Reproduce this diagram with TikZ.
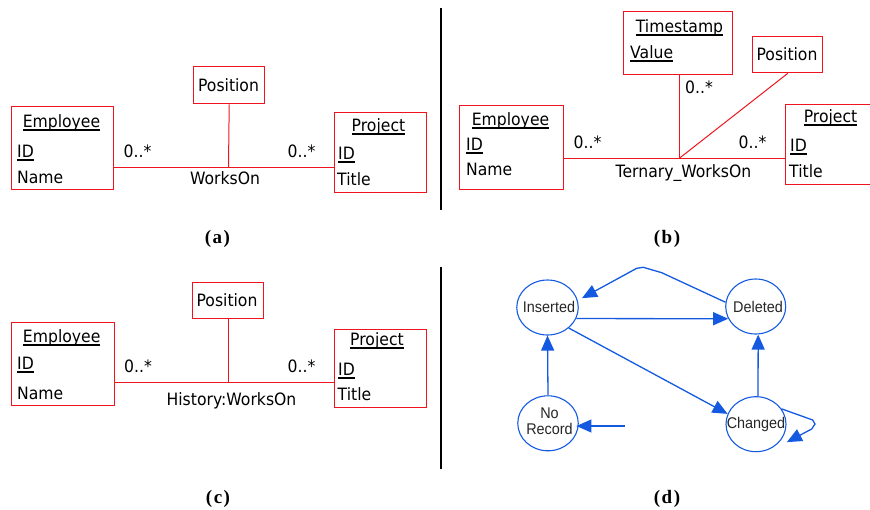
\documentclass[tikz,border=0pt]{standalone}
\usepackage{fontspec}
\setmainfont{Liberation Serif}
\newfontfamily\erfont[FakeStretch=0.92]{DejaVu Sans}
\newfontfamily\stfont[FakeStretch=0.93]{Liberation Sans}
\usetikzlibrary{arrows.meta,shapes.geometric}
\definecolor{boxred}{RGB}{240,20,30}
\definecolor{flowblue}{RGB}{20,90,225}
\newcommand{\myul}[1]{\setbox0=\hbox{#1}\rlap{\rule[-3.6pt]{\wd0}{1.3pt}}\box0}
\begin{document}
\begin{tikzpicture}[x=1pt,y=-1pt,
 erbox/.style={draw=boxred, line width=1.4pt, rectangle, inner sep=0pt, anchor=north west},
 ertxt/.style={font=\erfont\fontsize{17}{20}\selectfont, inner sep=0pt, anchor=base},
 ertxtl/.style={ertxt, anchor=base west},
 relline/.style={draw=boxred, line width=1pt},
 divider/.style={line width=2pt},
 caption/.style={font=\bfseries\fontsize{19}{21}\selectfont, inner sep=0pt, anchor=base},
 statenode/.style={ellipse, draw=flowblue, line width=1.1pt, inner sep=0pt, minimum width=61pt, minimum height=55pt},
 statelabel/.style={inner sep=0pt, font=\stfont\fontsize{15.5}{16}\selectfont, text=black!85, align=center},
 trans/.style={draw=flowblue, line width=1.3pt, -{Triangle[length=15pt,width=13pt]}}
]
\useasboundingbox (0,0) rectangle (870,509);

% dividers
\draw[divider] (441,8) -- (441,210);
\draw[divider] (441,267) -- (441,469);

% ---------- (a)
\node[erbox, minimum width=102pt, minimum height=83pt] (empA) at (11,106) {};
\node[erbox, minimum width=71pt, minimum height=37pt] (posA) at (193,66) {};
\node[erbox, minimum width=92pt, minimum height=80pt] (prjA) at (334,112) {};
\coordinate (jA) at (228.5,167);
\draw[relline] (empA.east |- jA) -- (prjA.west |- jA);
\draw[relline] (posA.south) -- (jA);
\node[ertxt] (empAt) at (61.5,127) {\myul{Employee}};
\node[ertxtl] (empAid) at (17,157) {\myul{ID}};
\node[ertxtl] (empAn) at (17,183) {Name};
\node[ertxt] (cAl) at (137.5,157) {0..*};
\node[ertxt] (cAr) at (301.5,157) {0..*};
\node[ertxt] (relA) at (225,184) {WorksOn};
\node[ertxt] (posAt) at (228.5,91) {Position};
\node[ertxt] (prjAt) at (378.5,131) {\myul{Project}};
\node[ertxtl] (prjAid) at (338,159) {\myul{ID}};
\node[ertxtl] (prjAti) at (337,185) {Title};
\node[caption] (capA) at (217.5,243.5) {(\kern1.5pt a\kern1.5pt)};

% ---------- (b)
\node[erbox, minimum width=104pt, minimum height=84pt] (empB) at (459,105) {};
\node[erbox, minimum width=109pt, minimum height=63pt] (tsB) at (623,11) {};
\node[erbox, minimum width=70pt, minimum height=36pt] (posB) at (752,36) {};
\node[erbox, minimum width=100pt, minimum height=80pt] (prjB) at (785,104) {};
\coordinate (jB) at (679.3,158.3);
\draw[relline] (empB.east |- jB) -- (prjB.west |- jB);
\draw[relline] (tsB.south -| jB) -- (jB);
\draw[relline] (posB.south) -- (jB);
\node[ertxt] (tsBt) at (679.5,32) {\myul{Timestamp}};
\node[ertxtl] (tsBv) at (630,58) {\myul{Value}};
\node[ertxt] (posBt) at (787,60) {Position};
\node[ertxtl] (cBt) at (685,93) {0..*};
\node[ertxt] (empBt) at (510.5,125) {\myul{Employee}};
\node[ertxtl] (empBid) at (466,150) {\myul{ID}};
\node[ertxtl] (empBn) at (466,175) {Name};
\node[ertxt] (cBl) at (587.5,148) {0..*};
\node[ertxt] (cBr) at (752.5,148) {0..*};
\node[ertxt] (relB) at (683.5,177) {Ternary\_WorksOn};
\node[ertxt] (prjBt) at (830.5,122) {\myul{Project}};
\node[ertxtl] (prjBid) at (790,151) {\myul{ID}};
\node[ertxtl] (prjBti) at (789,177) {Title};
\node[caption] (capB) at (667,243.5) {(\kern1.5pt b\kern1.5pt)};

% ---------- (c)
\node[erbox, minimum width=103pt, minimum height=83pt] (empC) at (11,322) {};
\node[erbox, minimum width=71pt, minimum height=36pt] (posC) at (192,282) {};
\node[erbox, minimum width=92pt, minimum height=78pt] (prjC) at (334,328.5) {};
\coordinate (jC) at (228.3,382);
\draw[relline] (empC.east |- jC) -- (prjC.west |- jC);
\draw[relline] (posC.south -| jC) -- (jC);
\node[ertxt] (posCt) at (227,306) {Position};
\node[ertxt] (empCt) at (61.7,342) {\myul{Employee}};
\node[ertxtl] (empCid) at (17,369) {\myul{ID}};
\node[ertxtl] (empCn) at (17,399) {Name};
\node[ertxt] (cCl) at (138,372) {0..*};
\node[ertxt] (cCr) at (301.5,372) {0..*};
\node[ertxt] (relC) at (231.5,405) {History:WorksOn};
\node[ertxt] (prjCt) at (377,345) {\myul{Project}};
\node[ertxtl] (prjCid) at (338,375) {\myul{ID}};
\node[ertxtl] (prjCti) at (337.5,400) {Title};
\node[caption] (capC) at (218,503.5) {(\kern1.5pt c\kern1.5pt)};

% ---------- (d)
\node[statenode, minimum width=61.5pt] (ins) at (547.5,307.5) {};
\node[statenode, minimum width=60pt] (del) at (755.7,306.5) {};
\node[statenode, minimum width=60.5pt] (nor) at (548,423.3) {};
\node[statenode, minimum width=60pt] (chg) at (756,424.2) {};
\node[statelabel] (insL) at (549,307.3) {Inserted};
\node[statelabel] (delL) at (758,306.7) {Deleted};
\node[statelabel] (norL) at (549.5,421.5) {No\\Record};
\node[statelabel] (chgL) at (756,424) {Changed};
\coordinate (start) at (625,426);
\draw[trans] (nor.north) -- (ins.south);
\draw[trans] (ins.-21) -- (del.-156.5);
\draw[trans] (ins.-44) -- (chg.160);
\draw[trans] ([xshift=2pt]chg.north) -- ([xshift=2.5pt]del.south);
\draw[trans] (del.172) -- (661.7,272.7) -- (643.3,267.3) -- (636.7,268.3) -- ([shift={(5.5pt,-1.2pt)}]ins.20);
\draw[trans, shorten >=-2.4pt] (start) -- (start -| nor.east);
\draw[trans] (chg.31) -- (812.7,420) -- (815,424) -- (811.7,429) -- ([shift={(5pt,-3pt)}]chg.-30);
\node[caption] (capD) at (667,503.5) {(\kern1.5pt d\kern1.5pt)};
\end{tikzpicture}
\end{document}
